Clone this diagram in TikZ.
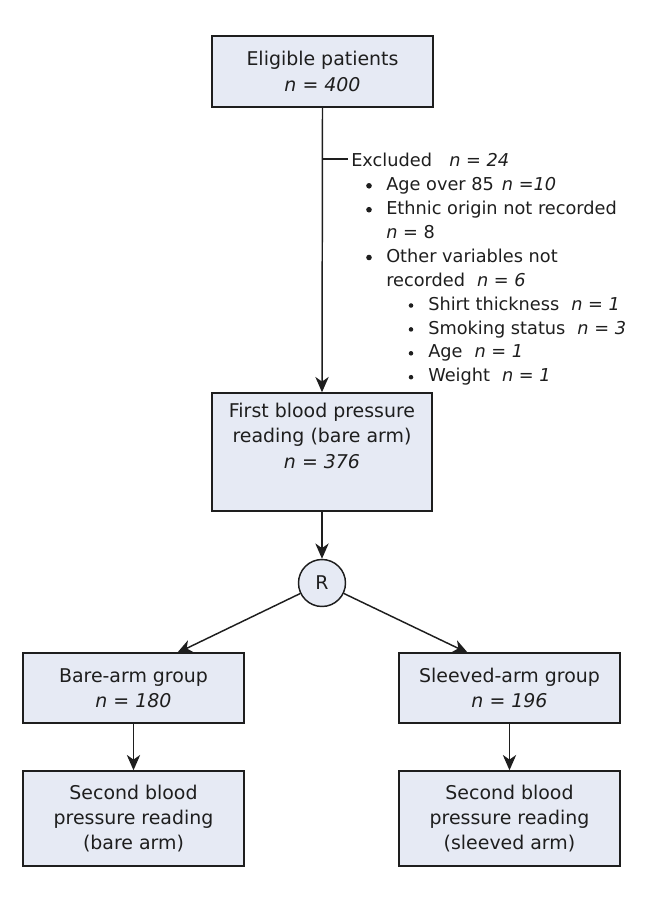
\documentclass[tikz,border=0pt]{standalone}
\usepackage{fontspec}
\setmainfont{DejaVu Sans}
\usetikzlibrary{arrows.meta}
\definecolor{boxfill}{RGB}{230,234,244}
\definecolor{ink}{RGB}{30,30,30}
\begin{document}
\begin{tikzpicture}[x=0.75pt,y=-0.75pt,
  box/.style={draw=ink, fill=boxfill, line width=1.1pt, align=center, inner sep=0pt,
    minimum width=165.75pt, font=\fontsize{14.2}{19}\selectfont, text=ink},
  arr/.style={draw=ink, line width=1.1pt, -{Stealth[length=11.5pt,width=10pt,inset=3.5pt]}},
  lst/.style={anchor=base west, inner sep=0pt, font=\fontsize{13.3}{18}\selectfont, text=ink},
  bul/.style={fill=ink},
  ]
\useasboundingbox (0,0) rectangle (652,900);

% boxes
\node[box, minimum height=53.25pt] (elig) at (322.5,71.5) {Eligible patients\\\textit{n} = \textit{400}};
\node[box, minimum width=165pt, minimum height=88.5pt] (first) at (322,452)
  {First blood pressure\\reading (bare arm)\\\textit{n} = \textit{376}\\\strut};
\node[draw=ink, fill=boxfill, line width=1.1pt, circle, minimum size=35.25pt, inner sep=0pt,
  font=\fontsize{14.2}{19}\selectfont, text=ink] (R) at (322,583) {R};
\node[box, minimum height=52.5pt] (bare) at (133.5,688) {Bare-arm group\\\textit{n} = \textit{180}};
\node[box, minimum height=52.5pt] (sleeve) at (509.5,688) {Sleeved-arm group\\\textit{n} = \textit{196}};
\node[box, minimum height=71.25pt] (sec1) at (133.5,818.5) {Second blood\\pressure reading\\(bare arm)};
\node[box, minimum height=71.25pt] (sec2) at (509.5,818.5) {Second blood\\pressure reading\\(sleeved arm)};

% exclusion list
\node[lst] (exc) at (351,166.7) {Excluded\hskip 13pt\textit{n} = \textit{24}};
\node[lst] (l1) at (386,190.6) {Age over 85\hskip 6pt\textit{n} =\textit{10}};
\node[lst] (l2) at (386,214.5) {Ethnic origin not recorded};
\node[lst] (l3) at (386,238.4) {\textit{n} = 8};
\node[lst] (l4) at (386,262.3) {Other variables not};
\node[lst] (l5) at (386,286.2) {recorded\hskip 9pt\textit{n} = \textit{6}};
\node[lst] (m1) at (428,310.1) {Shirt thickness\hskip 9pt\textit{n} = \textit{1}};
\node[lst] (m2) at (428,334.0) {Smoking status\hskip 9pt\textit{n} = \textit{3}};
\node[lst] (m3) at (428,357.9) {Age\hskip 9pt\textit{n} = \textit{1}};
\node[lst] (m4) at (428,381.8) {Weight\hskip 9pt\textit{n} = \textit{1}};

\fill[bul] (369,185.8) circle[radius=2.1pt];
\fill[bul] (369,209.7) circle[radius=2.1pt];
\fill[bul] (369,257.5) circle[radius=2.1pt];
\fill[bul] (411,305.5) circle[radius=1.7pt];
\fill[bul] (411,329.4) circle[radius=1.7pt];
\fill[bul] (411,353.3) circle[radius=1.7pt];
\fill[bul] (411,377.2) circle[radius=1.7pt];

% connectors
\coordinate (exJ) at (322,159);
\draw[ink, line width=1.1pt] (exJ) -- ([xshift=-2pt]exc.west |- exJ);
\draw[arr] (elig.south) -- (first.north);
\draw[arr] (first.south) -- (R.north);
\coordinate (bareIn) at (177,653);
\coordinate (sleeveIn) at (468,653);
\draw[arr] (R) -- (bareIn);
\draw[arr] (R) -- (sleeveIn);
\draw[arr] (bare.south) -- (sec1.north);
\draw[arr] (sleeve.south) -- (sec2.north);
\end{tikzpicture}
\end{document}
